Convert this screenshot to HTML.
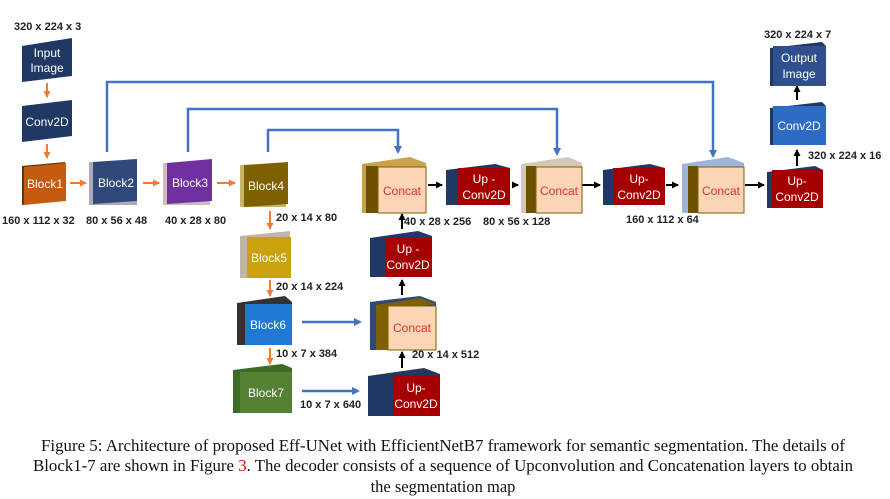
<!DOCTYPE html><html><head><style>body{margin:0;background:#fff}svg{display:block}</style></head><body>
<svg width="890" height="499" viewBox="0 0 890 499" xmlns="http://www.w3.org/2000/svg" font-family="Liberation Sans, sans-serif">
<defs>
<marker id="ao" markerUnits="userSpaceOnUse" markerWidth="7" markerHeight="7" refX="6" refY="3.5" orient="auto"><path d="M0,0L7,3.5L0,7z" fill="#ed7d31"/></marker>
<marker id="ab" markerUnits="userSpaceOnUse" markerWidth="8" markerHeight="8" refX="6" refY="4" orient="auto"><path d="M0,0L8,4L0,8z" fill="#4472c4"/></marker>
<marker id="ak" markerUnits="userSpaceOnUse" markerWidth="7" markerHeight="7" refX="6" refY="3.5" orient="auto"><path d="M0,0L7,3.5L0,7z" fill="#000"/></marker>
</defs>
<g font-size="11" font-weight="bold" fill="#222">
<text x="14" y="30">320 x 224 x 3</text>
<text x="2" y="224">160 x 112 x 32</text>
<text x="86" y="224">80 x 56 x 48</text>
<text x="165" y="224">40 x 28 x 80</text>
<text x="276" y="221">20 x 14 x 80</text>
<text x="276" y="290">20 x 14 x 224</text>
<text x="276" y="357">10 x 7 x 384</text>
<text x="300" y="408">10 x 7 x 640</text>
<text x="412" y="358">20 x  14 x 512</text>
<text x="404" y="225">40 x 28 x 256</text>
<text x="483" y="225">80 x 56 x 128</text>
<text x="626" y="223">160 x 112 x 64</text>
<text x="808" y="159">320 x 224 x 16</text>
<text x="764" y="38">320 x 224 x 7</text>
</g>
<g stroke="#4472c4" stroke-width="2.5" fill="none">
<path d="M107,152V82H713V156" marker-end="url(#ab)"/>
<path d="M188,152V109H557V154" marker-end="url(#ab)"/>
<path d="M268,152V130H398V152" marker-end="url(#ab)"/>
<path d="M302,322H360" marker-end="url(#ab)"/>
<path d="M302,391H358" marker-end="url(#ab)"/>
</g>
<g stroke="#ed7d31" stroke-width="2" fill="none">
<path d="M47,83V97" marker-end="url(#ao)"/>
<path d="M47,144V158" marker-end="url(#ao)"/>
<path d="M70,183H86" marker-end="url(#ao)"/>
<path d="M143,183H159" marker-end="url(#ao)"/>
<path d="M217,183H235" marker-end="url(#ao)"/>
<path d="M270,211V229" marker-end="url(#ao)"/>
<path d="M270,280V296" marker-end="url(#ao)"/>
<path d="M270,348V364" marker-end="url(#ao)"/>
</g>
<g stroke="#000" stroke-width="2" fill="none">
<path d="M428,185H442" marker-end="url(#ak)"/>
<path d="M512,185H518" marker-end="url(#ak)"/>
<path d="M582,185H600" marker-end="url(#ak)"/>
<path d="M666,185H678" marker-end="url(#ak)"/>
<path d="M745,185H764" marker-end="url(#ak)"/>
<path d="M797,166V150" marker-end="url(#ak)"/>
<path d="M797,100V86" marker-end="url(#ak)"/>
<path d="M402,368V352" marker-end="url(#ak)"/>
<path d="M402,295V280" marker-end="url(#ak)"/>
<path d="M402,229V214" marker-end="url(#ak)"/>
</g>
<g font-size="12">
<polygon points="22,46 72,38 72,76 22,82" fill="#1f3864"/><text x="47" y="57" fill="#fff" text-anchor="middle">Input</text><text x="47" y="72" fill="#fff" text-anchor="middle">Image</text>
<polygon points="22,106 72,100 72,136 22,142" fill="#1f3864"/><text x="47" y="126" fill="#fff" text-anchor="middle">Conv2D</text>
<polygon points="22,166 65,162 65,200 22,205" fill="#5a3a00"/><polygon points="24,167 66,163 66,201 24,205" fill="#c55a11"/><text x="45" y="188" fill="#fff" text-anchor="middle">Block1</text>
<rect x="89" y="162" width="48" height="43" fill="#aab"/><polygon points="93,162 137,159 137,201 93,204" fill="#2f4a7a"/><text x="116" y="187" fill="#fff" text-anchor="middle">Block2</text>
<rect x="163" y="163" width="47" height="42" fill="#cbb"/><polygon points="167,163 212,159 212,201 167,204" fill="#7030a0"/><text x="190" y="187" fill="#fff" text-anchor="middle">Block3</text>
<rect x="240" y="165" width="46" height="42" fill="#c9b26a"/><polygon points="244,165 288,162 288,204 244,207" fill="#7f6000"/><text x="266" y="190" fill="#fff" text-anchor="middle">Block4</text>
<polygon points="240,236 290,231 290,278 240,278" fill="#c0b5aa"/><rect x="247" y="237" width="44" height="41" fill="#c9a20e"/><text x="269" y="262" fill="#fff" text-anchor="middle">Block5</text>
<polygon points="237,303 285,296 292,302 292,345 237,345" fill="#333"/><rect x="245" y="304" width="47" height="41" fill="#1f78d1"/><text x="268" y="329" fill="#fff" text-anchor="middle">Block6</text>
<polygon points="233,370 282,364 292,368 292,413 233,413" fill="#3d6b22"/><rect x="240" y="372" width="52" height="41" fill="#548235"/><text x="266" y="397" fill="#fff" text-anchor="middle">Block7</text>
<polygon points="368,376 424,368 440,374 440,416 368,416" fill="#1f3864"/><rect x="393" y="375" width="47" height="41" fill="#a50000"/><text x="416" y="392" fill="#fff" text-anchor="middle">Up-</text><text x="416" y="408" fill="#fff" text-anchor="middle">Conv2D</text>
<polygon points="370,302 420,296 436,302 436,350 370,350" fill="#2f4a7a"/><polygon points="376,305 420,298 436,304 385,309" fill="#7f6000"/><rect x="376" y="305" width="12" height="45" fill="#7f6000"/><rect x="388" y="306" width="48" height="44" fill="#fcd5b4" stroke="#7f6000"/><text x="412" y="332" fill="#e03030" text-anchor="middle">Concat</text>
<polygon points="370,238 418,231 432,236 432,277 370,277" fill="#1f3864"/><rect x="385" y="237" width="47" height="40" fill="#a50000"/><text x="408" y="253" fill="#fff" text-anchor="middle">Up -</text><text x="408" y="269" fill="#fff" text-anchor="middle">Conv2D</text>
<polygon points="362,164 410,157 426,163 426,213 362,213" fill="#c9a24a"/><rect x="366" y="166" width="12" height="47" fill="#6b5000"/><rect x="378" y="167" width="48" height="46" fill="#fcd5b4" stroke="#7f6000"/><text x="402" y="195" fill="#e03030" text-anchor="middle">Concat</text>
<polygon points="446,170 495,164 510,168 510,205 446,205" fill="#1f3864"/><rect x="458" y="168" width="52" height="37" fill="#a50000"/><text x="484" y="183" fill="#fff" text-anchor="middle">Up -</text><text x="484" y="199" fill="#fff" text-anchor="middle">Conv2D</text>
<polygon points="521,164 568,157 582,163 582,213 521,213" fill="#d5c8b8"/><rect x="526" y="166" width="10" height="47" fill="#6b5000"/><rect x="536" y="167" width="46" height="46" fill="#fcd5b4" stroke="#7f6000"/><text x="559" y="195" fill="#e03030" text-anchor="middle">Concat</text>
<polygon points="603,170 650,164 665,168 665,205 603,205" fill="#1f3864"/><rect x="613" y="168" width="52" height="37" fill="#a50000"/><text x="639" y="183" fill="#fff" text-anchor="middle">Up-</text><text x="639" y="199" fill="#fff" text-anchor="middle">Conv2D</text>
<polygon points="682,164 728,157 744,163 744,213 682,213" fill="#9fb4d8"/><rect x="688" y="166" width="10" height="47" fill="#6b5000"/><rect x="698" y="167" width="46" height="46" fill="#fcd5b4" stroke="#7f6000"/><text x="721" y="195" fill="#e03030" text-anchor="middle">Concat</text>
<polygon points="767,172 815,166 823,170 823,208 767,208" fill="#1f3864"/><rect x="772" y="170" width="51" height="38" fill="#a50000"/><text x="797" y="185" fill="#fff" text-anchor="middle">Up-</text><text x="797" y="201" fill="#fff" text-anchor="middle">Conv2D</text>
<polygon points="770,108 822,102 826,106 826,145 770,145" fill="#1f3864"/><rect x="773" y="106" width="53" height="39" fill="#2e6bc4"/><text x="799" y="130" fill="#fff" text-anchor="middle">Conv2D</text>
<polygon points="770,48 822,42 826,46 826,86 770,86" fill="#1f3864"/><rect x="773" y="46" width="53" height="40" fill="#2f4f8e"/><text x="799" y="62" fill="#fff" text-anchor="middle">Output</text><text x="799" y="78" fill="#fff" text-anchor="middle">Image</text>
</g>
<g font-family="Liberation Serif, serif" font-size="16.5" fill="#111" text-anchor="middle">
<text x="443" y="451" textLength="804" lengthAdjust="spacingAndGlyphs">Figure 5: Architecture of proposed Eff-UNet with EfficientNetB7 framework for semantic segmentation. The details of</text>
<text x="443" y="471" textLength="820" lengthAdjust="spacingAndGlyphs">Block1-7 are shown in Figure <tspan fill="#d00">3</tspan>. The decoder consists of a sequence of Upconvolution and Concatenation layers to obtain</text>
<text x="443" y="492">the segmentation map</text>
</g>
</svg>
</body></html>
